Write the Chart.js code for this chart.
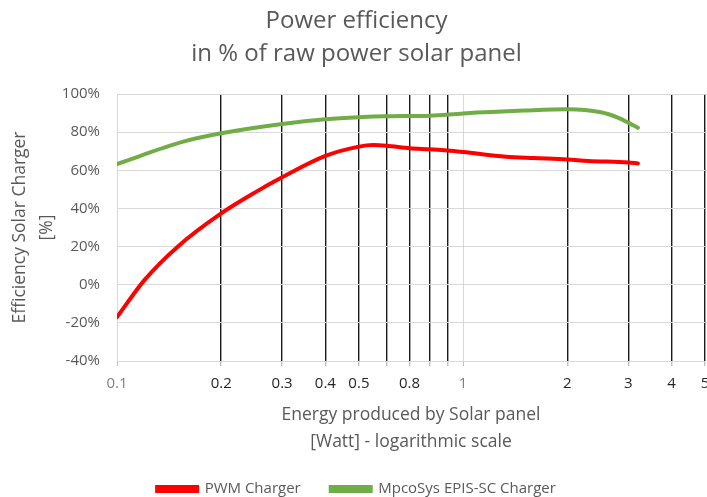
<!DOCTYPE html>
<html lang="en">
<head>
  <meta charset="UTF-8">
  <title>Power efficiency</title>
  <script src="https://cdn.jsdelivr.net/npm/chart.js"></script>
  <style>
    * { margin: 0; padding: 0; box-sizing: border-box; }
    body { background: #fff; }
    canvas { display: block; }
  </style>
</head>
<body>

<canvas id="effChart" width="707" height="497"></canvas>

<script>
// values (x in Watt, y in %)
const pwmWatt = [0.1, 0.12, 0.15, 0.2, 0.25, 0.3, 0.4, 0.5, 0.55, 0.6, 0.7, 0.8, 0.9, 1, 1.33, 1.6, 2, 2.3, 3, 3.2];
const pwmEff  = [-17, 2.4, 20.1, 37.4, 48.3, 56.3, 67.5, 72.4, 73.2, 72.9, 71.6, 71, 70.4, 69.6, 67.1, 66.4, 65.7, 64.9, 64.1, 63.6];

const episWatt = [0.1, 0.1554, 0.2, 0.3, 0.4, 0.5, 0.6, 0.8, 1, 1.5, 2, 2.5, 2.8, 3, 3.2];
const episEff  = [63.3, 75, 79.4, 84.3, 86.7, 87.8, 88.3, 88.6, 89.8, 91.3, 92, 90.4, 87.6, 85, 82.3];

const xTickValues = [0.1, 0.2, 0.3, 0.4, 0.5, 0.6, 0.7, 0.8, 0.9, 1, 2, 3, 4, 5];
const xTickLabels = ['0.1', '0.2', '0.3', '0.4', '0.5', '', '0.8', '', '', '1', '2', '3', '4', '5'];

const seriesNames = ['PWM Charger', 'MpcoSys EPIS-SC Charger'];

const font = '"Open Sans", sans-serif';
const grey = '#595959';

const toPoints = (xs, ys) => xs.map((x, i) => ({ x, y: ys[i] }));
const lightTick = v => v === 0.1 || v === 1;

new Chart(document.getElementById('effChart'), {
  type: 'line',
  data: {
    datasets: [{
      label: seriesNames[0],
      data: toPoints(pwmWatt, pwmEff),
      borderColor: '#ff0000',
      backgroundColor: '#ff0000',
      borderWidth: 4,
      borderCapStyle: 'round',
      pointRadius: 0,
      cubicInterpolationMode: 'monotone'
    }, {
      label: seriesNames[1],
      data: toPoints(episWatt, episEff),
      borderColor: '#70ad47',
      backgroundColor: '#70ad47',
      borderWidth: 4,
      borderCapStyle: 'round',
      pointRadius: 0,
      cubicInterpolationMode: 'monotone'
    }]
  },
  options: {
    responsive: false,
    animation: false,
    devicePixelRatio: 1,
    layout: { padding: { left: 8, right: 2, top: 0, bottom: -9.5 } },
    plugins: {
      title: {
        display: true,
        text: ['Power efficiency', 'in % of raw power solar panel'],
        color: grey,
        font: { family: font, size: 24, weight: 'normal', lineHeight: 33 / 24 },
        padding: { top: 5, bottom: 23 }
      },
      legend: {
        position: 'bottom',
        labels: {
          color: grey,
          font: { family: font, size: 15 },
          boxWidth: 40,
          boxHeight: 4,
          padding: 30
        }
      },
      tooltip: { enabled: false }
    },
    scales: {
      x: {
        type: 'logarithmic',
        min: 0.1,
        max: 5,
        afterBuildTicks: scale => {
          scale.ticks = xTickValues.map(v => ({ value: v }));
        },
        afterFit: scale => {
          scale.height = 90.5;
          scale.paddingLeft = 0;
          scale.paddingRight = 0;
        },
        ticks: {
          autoSkip: false,
          maxRotation: 0,
          padding: 9,
          font: { family: font, size: 15 },
          color: ctx => lightTick(ctx.tick.value) ? '#808080' : '#262626',
          callback: (v, i) => xTickLabels[i]
        },
        grid: {
          color: ctx => lightTick(ctx.tick.value) ? '#d9d9d9' : '#1a1a1a',
          lineWidth: ctx => lightTick(ctx.tick.value) ? 1 : 1.4,
          tickColor: '#bfbfbf',
          tickLength: 5
        },
        border: { color: '#d9d9d9' },
        title: {
          display: true,
          text: ['Energy produced by Solar panel', '[Watt] - logarithmic scale'],
          color: grey,
          font: { family: font, size: 17.5, lineHeight: 1.55 },
          padding: { top: 0, bottom: -4 }
        }
      },
      y: {
        min: -40,
        max: 100,
        afterFit: scale => {
          scale.width = 109;
          scale.paddingTop = 0;
          scale.paddingBottom = 0;
        },
        ticks: {
          stepSize: 20,
          padding: 17,
          font: { family: font, size: 15 },
          color: grey,
          callback: v => v + '%'
        },
        grid: { color: '#d9d9d9', drawTicks: false },
        border: { color: '#d9d9d9' },
        title: {
          display: true,
          text: ['Efficiency Solar Charger', '[%]'],
          color: grey,
          font: { family: font, size: 17.5, lineHeight: 1.51 },
          padding: { top: -1, bottom: 0 }
        }
      }
    }
  }
});
</script>

</body>
</html>
